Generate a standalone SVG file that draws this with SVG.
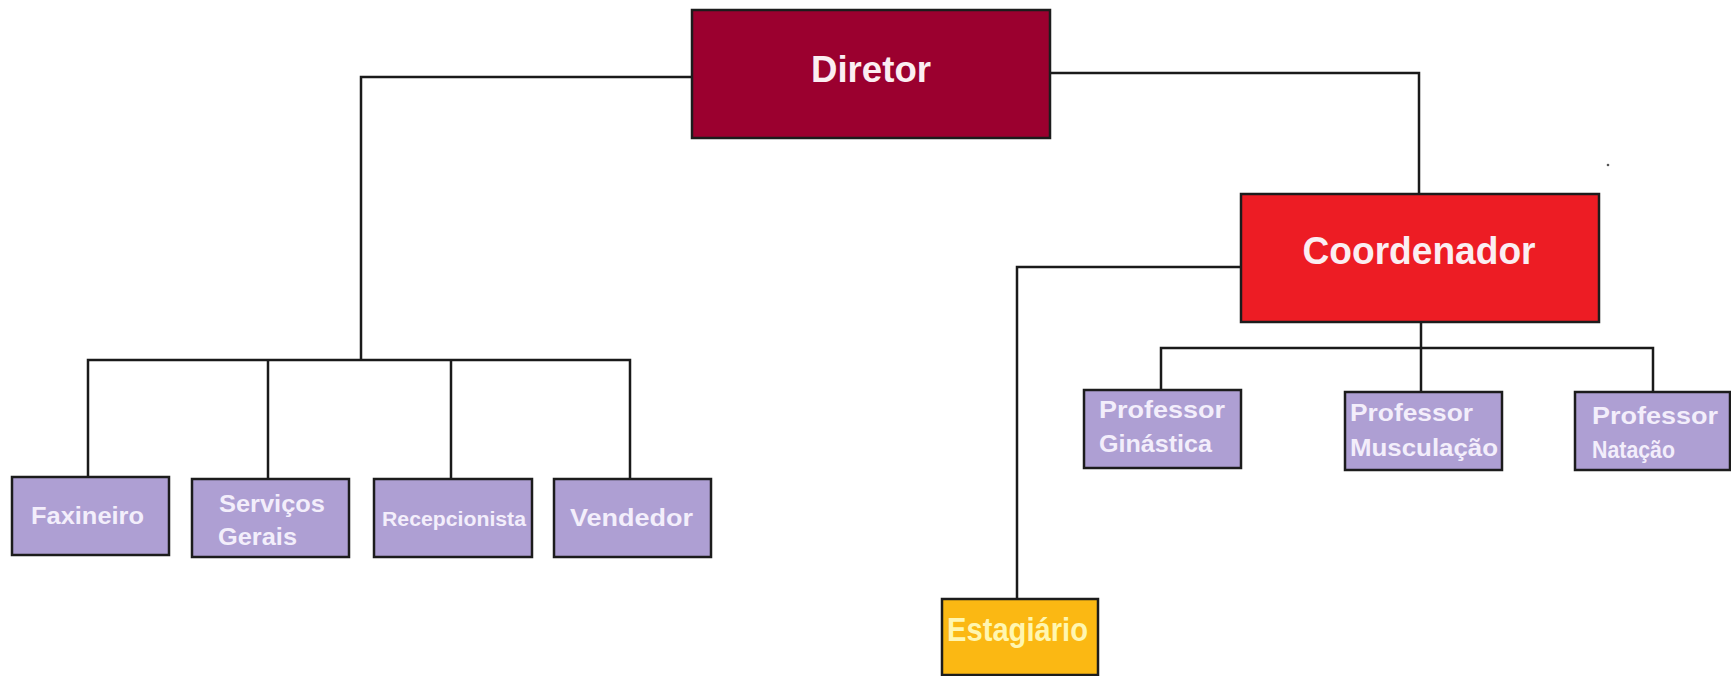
<svg xmlns="http://www.w3.org/2000/svg" width="1731" height="676" viewBox="0 0 1731 676">
  <style>
    .box { stroke: #1c1c1c; stroke-width: 2.5; }
    .dir { fill: #9b002f; }
    .coord { fill: #ed1c24; }
    .staff { fill: #ae9fd3; }
    .intern { fill: #fbb813; }
    .head { font-family: "Liberation Sans", Arial, sans-serif; font-weight: bold; fill: #fbeef2; text-anchor: middle; }
    .lbl { font-family: "Liberation Sans", Arial, sans-serif; font-size: 24px; font-weight: bold; fill: #f3eefb; }
    .link { fill: none; stroke: #1a1a1a; stroke-width: 2.5; stroke-linejoin: miter; }
  </style>

  <rect width="1731" height="676" fill="#ffffff"/>

  <!-- connectors -->
  <g id="connectors" class="link">
    <polyline points="692,77 361,77 361,360"/>
    <polyline points="88,477 88,360 630,360 630,479"/>
    <line x1="268" y1="360" x2="268" y2="479"/>
    <line x1="451" y1="360" x2="451" y2="479"/>
    <polyline points="1049,73 1419,73 1419,194"/>
    <polyline points="1241,267 1017,267 1017,599"/>
    <line x1="1421" y1="322" x2="1421" y2="348"/>
    <polyline points="1161,390 1161,348 1653,348 1653,392"/>
    <line x1="1421" y1="348" x2="1421" y2="392"/>
  </g>

  <!-- top level -->
  <g id="diretor">
    <rect class="box dir" x="692" y="10" width="358" height="128"/>
    <text class="head" x="871" y="82" font-size="37" textLength="120" lengthAdjust="spacingAndGlyphs">Diretor</text>
  </g>

  <g id="coordenador">
    <rect class="box coord" x="1241" y="194" width="358" height="128"/>
    <text class="head" x="1419" y="264" font-size="38" textLength="233" lengthAdjust="spacingAndGlyphs">Coordenador</text>
  </g>

  <!-- staff under the director -->
  <g id="faxineiro">
    <rect class="box staff" x="12" y="477" width="157" height="78"/>
    <text class="lbl" x="31" y="524" textLength="113" lengthAdjust="spacingAndGlyphs">Faxineiro</text>
  </g>

  <g id="servicos-gerais">
    <rect class="box staff" x="192" y="479" width="157" height="78"/>
    <text class="lbl" x="219" y="512" textLength="106" lengthAdjust="spacingAndGlyphs">Serviços</text>
    <text class="lbl" x="218" y="545" textLength="79" lengthAdjust="spacingAndGlyphs">Gerais</text>
  </g>

  <g id="recepcionista">
    <rect class="box staff" x="374" y="479" width="158" height="78"/>
    <text class="lbl" x="382" y="526" style="font-size:20px" textLength="144" lengthAdjust="spacingAndGlyphs">Recepcionista</text>
  </g>

  <g id="vendedor">
    <rect class="box staff" x="554" y="479" width="157" height="78"/>
    <text class="lbl" x="570" y="526" textLength="123" lengthAdjust="spacingAndGlyphs">Vendedor</text>
  </g>

  <!-- staff under the coordinator -->
  <g id="professor-ginastica">
    <rect class="box staff" x="1084" y="390" width="157" height="78"/>
    <text class="lbl" x="1099" y="418" textLength="126" lengthAdjust="spacingAndGlyphs">Professor</text>
    <text class="lbl" x="1099" y="452" textLength="113" lengthAdjust="spacingAndGlyphs">Ginástica</text>
  </g>

  <g id="professor-musculacao">
    <rect class="box staff" x="1345" y="392" width="157" height="78"/>
    <text class="lbl" x="1350" y="421" textLength="123" lengthAdjust="spacingAndGlyphs">Professor</text>
    <text class="lbl" x="1350" y="456" textLength="148" lengthAdjust="spacingAndGlyphs">Musculação</text>
  </g>

  <g id="professor-natacao">
    <rect class="box staff" x="1575" y="392" width="155" height="78"/>
    <text class="lbl" x="1592" y="424" textLength="126" lengthAdjust="spacingAndGlyphs">Professor</text>
    <text class="lbl" x="1592" y="458" textLength="83" lengthAdjust="spacingAndGlyphs">Natação</text>
  </g>

  <g id="estagiario">
    <rect class="box intern" x="942" y="599" width="156" height="76"/>
    <text x="947" y="641" font-family="'Liberation Sans', Arial, sans-serif" font-size="34" font-weight="bold" fill="#fff6b0" textLength="141" lengthAdjust="spacingAndGlyphs">Estagiário</text>
  </g>

  <circle cx="1608" cy="165" r="1.3" fill="#555555"/>
</svg>
